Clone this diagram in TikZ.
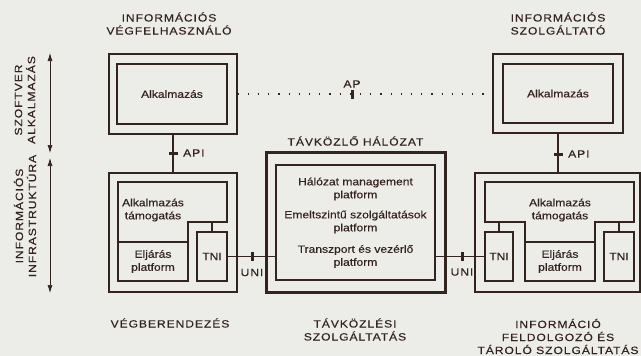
\documentclass[tikz,border=0pt]{standalone}
\usepackage{fontspec}
\setmainfont[FakeStretch=1.15,FakeBold=0.4]{Liberation Sans}
\newfontfamily\capsfont[FakeStretch=1.15,FakeBold=0.4,LetterSpace=9]{Liberation Sans}
\usetikzlibrary{arrows.meta}
\definecolor{ink}{RGB}{52,36,32}
\definecolor{paper}{RGB}{236,236,233}

\begin{document}
\begin{tikzpicture}[x=1pt,y=-1pt,
  frame/.style={draw=ink, line width=1.1pt, inner sep=0pt},
  lbl/.style={text=ink, inner sep=0pt, align=center, font=\fontsize{10.5}{13}\selectfont},
  caps/.style={lbl, font=\fontsize{10.5}{13}\capsfont},
  vtick/.style={fill=ink, inner sep=0pt, minimum width=3pt, minimum height=9pt},
  htick/.style={fill=ink, inner sep=0pt, minimum width=9pt, minimum height=3pt}]%
  \def\tnitop{232}%
  \def\eljtop{242}%
  \def\bot{281}%

  %background
  \fill[paper] (0,0) rectangle (641,356);
  \useasboundingbox (0,0) rectangle (641,356);

  %end user side
  \node[frame, minimum width=128pt, minimum height=80pt] (vgOuter) at (173,94) {};
  \node[frame, minimum width=110pt, minimum height=60pt] (vgApp) at (172,94) {};
  \node[lbl] at (vgApp) {Alkalmazás};
  \node[frame, minimum width=128pt, minimum height=119pt] (vgInfra) at (173,232.5) {};
  \draw[ink, line width=1.1pt] (118,182) -- (227,182) -- (227,222) -- (188,222) -- (188,\eljtop) -- (118,\eljtop) -- cycle;
  \node[lbl] at (153,210) {Alkalmazás\\támogatás};
  \node[frame, minimum width=70pt, minimum height=39pt] (vgElj) at (153,261.5) {};
  \node[lbl] at (vgElj) {Eljárás\\platform};
  \node[frame, minimum width=30pt, minimum height=49pt] (vgTNI) at (212,256.5) {};
  \node[lbl] at (vgTNI) {TNI};
  \draw[ink, line width=1.1pt] (vgTNI.north) -- ++(0,-10);

  %provider side
  \node[frame, minimum width=130pt, minimum height=79pt] (szOuter) at (558,93.5) {};
  \node[frame, minimum width=110pt, minimum height=59pt] (szApp) at (558,93.5) {};
  \node[lbl] at (szApp) {Alkalmazás};
  \draw[ink, line width=1.1pt] (475,173) -- (640,173) -- (640,292) -- (475,292) -- cycle;
  \coordinate (szInfra) at (558,173);
  \draw[ink, line width=1.1pt] (485,182) -- (634,182) -- (634,222) -- (595,222) -- (595,\eljtop) -- (525,\eljtop) -- (525,222) -- (485,222) -- cycle;
  \node[lbl] at (560,210) {Alkalmazás\\támogatás};
  \node[frame, minimum width=70pt, minimum height=39pt] (szElj) at (560,261.5) {};
  \node[lbl] at (szElj) {Eljárás\\platform};
  \node[frame, minimum width=28pt, minimum height=49pt] (szTNIa) at (499,256.5) {};
  \node[lbl] at (szTNIa) {TNI};
  \node[frame, minimum width=30pt, minimum height=49pt] (szTNIb) at (619,256.5) {};
  \node[lbl] at (szTNIb) {TNI};
  \draw[ink, line width=1.1pt] (szTNIa.north) -- ++(0,-10);
  \draw[ink, line width=1.1pt] (szTNIb.north) -- ++(0,-10);

  %network
  \node[frame, line width=3pt, minimum width=179pt, minimum height=140pt] (net) at (355.5,222) {};
  \node[frame, minimum width=159pt, minimum height=115pt] (netIn) at (355.5,222.5) {};
  \node[lbl] at (355.5,189) {Hálózat management\\platform};
  \node[lbl] at (355.5,222) {Emeltszintű szolgáltatások\\platform};
  \node[lbl] at (355.5,256.5) {Transzport és vezérlő\\platform};
  \node[caps] at (355.5,141) {TÁVKÖZLŐ HÁLÓZAT};

  %interfaces
  \draw[ink, line width=1.1pt] (vgOuter.south) -- (vgInfra.north);
  \node[htick] (apiL) at (173,153) {};
  \node[caps, anchor=west] at (183,153) {API};
  \draw[ink, line width=1.1pt] (szOuter.south) -- (szInfra);
  \node[htick] (apiR) at (558,154) {};
  \node[caps, anchor=west] at (568,154) {API};
  \draw[ink, line width=1.2pt, dash pattern=on 1.2pt off 9pt] (vgOuter.east) -- (vgOuter.east -| szOuter.west);
  \node[vtick] (ap) at (352,94) {};
  \node[caps] at (352,84) {AP};
  \draw[ink, line width=1.1pt] (vgTNI.east) -- (vgTNI.east -| netIn.west);
  \node[vtick] (uniL) at (252,256.5) {};
  \node[caps] at (252,272.5) {UNI};
  \draw[ink, line width=1.1pt] (szTNIa.west -| netIn.east) -- (szTNIa.west);
  \node[vtick] (uniR) at (462,256.5) {};
  \node[caps] at (462,272) {UNI};

  %layer arrows
  \draw[ink, line width=0.7pt, {Latex[length=8pt,width=5pt]}-{Latex[length=8pt,width=5pt]}] (50,53) -- (50,153);
  \draw[ink, line width=0.7pt, {Latex[length=8pt,width=5pt]}-{Latex[length=8pt,width=5pt]}] (50,158) -- (50,293);
  \node[caps, rotate=90] at (25,100) {SZOFTVER\\ALKALMAZÁS};
  \node[caps, rotate=90] at (25,216) {INFORMÁCIÓS\\INFRASTRUKTÚRA};

  %titles
  \node[caps] at (169,23.5) {INFORMÁCIÓS\\VÉGFELHASZNÁLÓ};
  \node[caps] at (558,23.5) {INFORMÁCIÓS\\SZOLGÁLTATÓ};
  \node[caps] at (170,323) {VÉGBERENDEZÉS};
  \node[caps] at (355,329.5) {TÁVKÖZLÉSI\\SZOLGÁLTATÁS};
  \node[caps] at (558,336.5) {INFORMÁCIÓ\\FELDOLGOZÓ ÉS\\TÁROLÓ SZOLGÁLTATÁS};
\end{tikzpicture}
\end{document}
